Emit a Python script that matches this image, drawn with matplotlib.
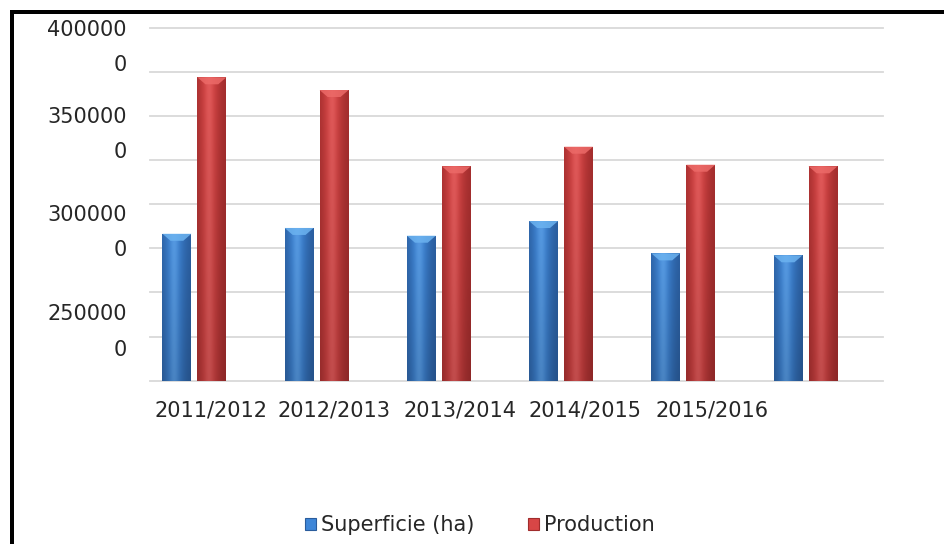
import numpy as np
import matplotlib
matplotlib.use("Agg")
import matplotlib.pyplot as plt
from matplotlib.patches import Patch, Polygon
from matplotlib.lines import Line2D
from matplotlib.colors import to_rgb
from matplotlib.transforms import ScaledTranslation, blended_transform_factory

# ---- data -------------------------------------------------------------
seasons = ["2011/2012", "2012/2013", "2013/2014", "2014/2015", "2015/2016"]
superficie = [2832000, 2865000, 2821000, 2904000, 2721000, 2710000]
production = [3718000, 3646000, 3214000, 3325000, 3223000, 3214000]
y_tick_values = [4000000, 3500000, 3000000, 2500000]
series_names = ["Superficie (ha)", "Production"]

# ---- figure -----------------------------------------------------------
W, H, DPI = 944, 544, 100
fig = plt.figure(figsize=(W / DPI, H / DPI), dpi=DPI)
fig.patch.set_facecolor("white")

ax_left, ax_right, ax_top, ax_bottom = 150, 883, 27.5, 380.7
ax = fig.add_axes([ax_left / W, 1 - ax_bottom / H,
                   (ax_right - ax_left) / W, (ax_bottom - ax_top) / H])

ymin, ymax = 2000000, 4000000
n = len(superficie)
x = np.arange(n)
width = 0.237
offset = 0.143
xlim = (-0.363, n - 1 + 0.634)

# gridlines
for v in np.arange(ymin, ymax + 1, 250000):
    ax.axhline(v, color="#d9d9d9", lw=1.3, zorder=0, clip_on=False)

for s in ax.spines.values():
    s.set_visible(False)
ax.set_xticks([])
ax.set_yticks([])

px_per_data = (ax_bottom - ax_top) / (ymax - ymin)


def bar_image(base, dark, light):
    """Cylinder-like shading: dark edges, bright band left of centre."""
    base, dark, light = map(np.array, (to_rgb(base), to_rgb(dark), to_rgb(light)))
    t = np.linspace(0, 1, 80)
    prof = np.exp(-((t - 0.42) / 0.36) ** 2)
    row = dark[None, :] + (base - dark)[None, :] * prof[:, None]
    row = row + (light - base)[None, :] * (prof[:, None] ** 6) * 0.35
    vert = np.linspace(0.86, 1.0, 120)[:, None, None]
    img = np.clip(row[None, :, :] * vert, 0, 1)
    return img


styles = [
    dict(base="#3e86d8", dark="#2a5c9c", light="#7fbcf4", cap="#6cb3f0"),
    dict(base="#d84646", dark="#a02c2c", light="#f07a7a", cap="#ec6a68"),
]

for vals, sign, st in zip([superficie, production], [-1, 1], styles):
    bars = ax.bar(x + sign * offset, np.array(vals) - ymin, width, bottom=ymin,
                  color=st["base"], edgecolor="none", zorder=2)
    img = bar_image(st["base"], st["dark"], st["light"])
    for rect in bars:
        x0, y0 = rect.get_x(), rect.get_y()
        w, h = rect.get_width(), rect.get_height()
        im = ax.imshow(img, extent=(x0, x0 + w, y0, y0 + h), origin="lower",
                       aspect="auto", zorder=2.5, interpolation="bilinear")
        im.set_clip_path(rect)
        top = y0 + h
        d = 7 / px_per_data
        cap = Polygon([(x0, top), (x0 + w, top), (x0 + w * 0.72, top - d),
                       (x0 + w * 0.28, top - d)], closed=True,
                      facecolor=st["cap"], edgecolor="none", zorder=3, alpha=0.85)
        ax.add_patch(cap)

ax.set_xlim(*xlim)
ax.set_ylim(ymin, ymax)

text_color = "#262626"
fs = 15

# y tick labels, wrapped onto two lines
ytrans = blended_transform_factory(ax.transAxes, ax.transData)
y_shifts = [-8, -9, 1, 12]
for v, s in zip(y_tick_values, y_shifts):
    txt = f"{str(v)[:-1]}\n{str(v)[-1]}"
    ax.text(-23 / (ax_right - ax_left), v, txt,
            transform=ytrans + ScaledTranslation(0, -s / DPI, fig.dpi_scale_trans),
            ha="right", va="top", fontsize=fs, linespacing=1.95,
            multialignment="right", color=text_color)

# category labels
xtrans = blended_transform_factory(ax.transData, ax.transAxes)
x_shifts = [16.6, 17.8, 21, 24, 28.3]
for i, (lab, dx) in enumerate(zip(seasons, x_shifts)):
    ax.text(i, 0, lab,
            transform=xtrans + ScaledTranslation(dx / DPI, -30 / DPI, fig.dpi_scale_trans),
            ha="center", va="center", fontsize=fs, color=text_color)

# legend
handles = [Patch(facecolor=styles[0]["base"], edgecolor=styles[0]["dark"], lw=0.8),
           Patch(facecolor=styles[1]["base"], edgecolor=styles[1]["dark"], lw=0.8)]
fig.legend(handles, series_names, loc="center", bbox_to_anchor=(480 / W, 1 - 525 / H),
           ncol=2, frameon=False, fontsize=fs, handlelength=0.5, handleheight=0.5,
           handletextpad=0.25, columnspacing=2.6, labelcolor=text_color)

# outer frame (top and left edges)
lw_pt = 4 * 72 / DPI
fig.add_artist(Line2D([9.5 / W, 1.0], [1 - 12 / H, 1 - 12 / H], color="black",
                      lw=lw_pt, solid_capstyle="butt"))
fig.add_artist(Line2D([11.5 / W, 11.5 / W], [1 - 10 / H, 0.0], color="black",
                      lw=lw_pt, solid_capstyle="butt"))

fig.savefig("out.png", dpi=DPI)
